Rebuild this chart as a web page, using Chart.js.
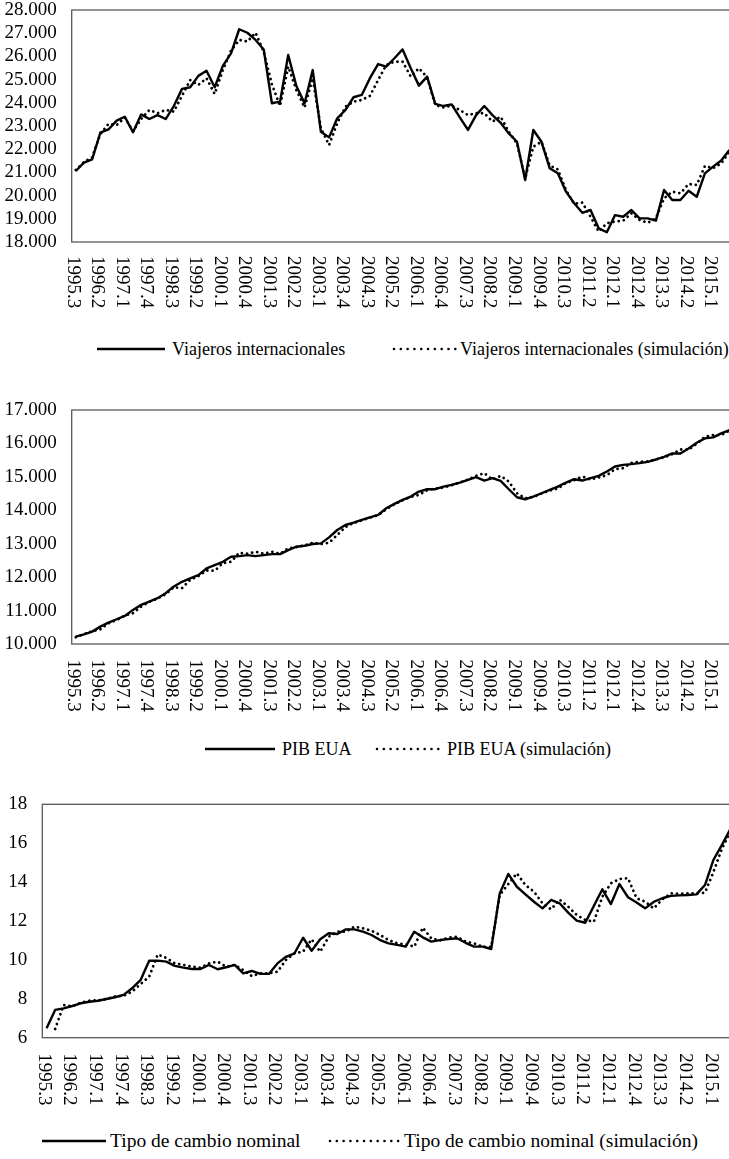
<!DOCTYPE html>
<html><head><meta charset="utf-8">
<script src="https://cdn.jsdelivr.net/npm/chart.js@4.4.1/dist/chart.umd.min.js"></script>
<style>
html,body{margin:0;padding:0;background:#fff;}
body{width:729px;height:1159px;overflow:hidden;position:relative;font-family:"Liberation Serif","Times New Roman",serif;}
canvas{position:absolute;left:0;}
.lg{position:absolute;display:flex;align-items:center;height:24px;line-height:24px;color:#000;white-space:nowrap;}
.lg svg{display:block;}
</style></head><body>
<canvas id="c1" width="740" height="320" style="top:0px"></canvas>
<canvas id="c2" width="740" height="320" style="top:400px"></canvas>
<canvas id="c3" width="740" height="320" style="top:790px"></canvas>
<script>
// ---------- categories (quarters 1995.3 .. 2015.3) ----------
const categories = [];
for (let y = 1995; y <= 2015; y++) {
  for (let q = 1; q <= 4; q++) {
    if ((y === 1995 && q < 3) || (y === 2015 && q > 3)) continue;
    categories.push(y + '.' + q);
  }
}
const tickLabels = ['1995.3','1996.2','1997.1','1997.4','1998.3','1999.2','2000.1','2000.4','2001.3',
  '2002.2','2003.1','2003.4','2004.3','2005.2','2006.1','2006.4','2007.3','2008.2','2009.1','2009.4',
  '2010.3','2011.2','2012.1','2012.4','2013.3','2014.2','2015.1'];

// ---------- series ----------
const viajeros = [21060,21420,21560,22710,22850,23230,23400,22730,23500,23300,
  23470,23300,23860,24600,24670,25160,25380,24670,25590,26130,
  27170,27020,26710,26300,23980,24050,26060,24720,23980,25410,
  22750,22510,23330,23690,24240,24340,25060,25670,25560,25920,
  26300,25490,24740,25130,23950,23860,23930,23370,22830,23470,
  23860,23470,23140,22680,22320,20670,22830,22320,21180,20960,
  20170,19670,19260,19380,18590,18420,19160,19090,19380,19020,
  19020,18920,20240,19810,19810,20210,19950,20960,21250,21510,21970];
const viajerosSim = [21100,21450,21650,22650,23090,23040,23360,22770,23300,23690,
  23550,23690,23620,24300,24980,24770,25060,24380,25410,26250,
  26710,26640,27020,26200,24800,23860,25560,24550,23800,25060,
  22900,22180,23120,23830,24050,24120,24300,24980,25630,25770,
  25770,25130,25490,25100,23900,23800,23880,23690,23470,23550,
  23550,23190,23400,22750,22250,20740,22110,22320,21300,21130,
  20240,19640,19700,19090,18450,18810,18880,18920,19240,18950,
  18830,19020,19880,20170,20100,20500,20460,21280,21180,21390,21890];
const pib = [10220,10290,10370,10520,10640,10740,10840,11020,11170,11270,
  11370,11520,11720,11860,11960,12060,12260,12360,12460,12610,
  12630,12660,12630,12660,12690,12690,12810,12910,12940,12990,
  13010,13190,13410,13560,13630,13710,13790,13860,14060,14190,
  14310,14410,14560,14630,14630,14710,14760,14830,14910,14990,
  14890,14960,14880,14630,14390,14330,14410,14510,14610,14710,
  14830,14930,14890,14960,15030,15160,15310,15360,15380,15410,
  15450,15520,15600,15700,15700,15850,16020,16150,16180,16300,16400];
const pibSim = [10200,10300,10380,10440,10620,10720,10850,10920,11120,11260,
  11360,11490,11700,11670,11920,12030,12200,12190,12420,12460,
  12730,12700,12760,12700,12760,12700,12860,12900,12950,13030,
  12990,13030,13260,13500,13620,13700,13780,13850,14030,14180,
  14300,14400,14460,14600,14650,14680,14750,14830,14920,15030,
  15110,14920,15030,14860,14510,14360,14400,14500,14590,14650,
  14820,14900,15010,14920,14980,15050,15230,15260,15420,15450,
  15460,15520,15580,15680,15820,15810,15990,16200,16250,16250,16380];
const tipoCambio = [6.48,7.43,7.51,7.63,7.77,7.85,7.90,7.99,8.08,8.20,
  8.54,8.97,9.96,9.96,9.91,9.69,9.60,9.53,9.53,9.74,
  9.52,9.62,9.74,9.31,9.43,9.28,9.28,9.82,10.16,10.34,
  11.14,10.47,11.06,11.37,11.33,11.57,11.57,11.45,11.28,11.02,
  10.85,10.77,10.68,11.45,11.16,10.94,11.02,11.07,11.11,10.88,
  10.68,10.68,10.56,13.42,14.42,13.76,13.37,12.99,12.65,13.08,
  12.91,12.43,12.02,11.91,12.77,13.63,12.87,13.90,13.22,12.95,
  12.65,12.98,13.17,13.29,13.32,13.34,13.37,13.85,15.15,15.93,16.75];
const tipoCambioSim = [null,6.45,7.68,7.61,7.80,7.90,7.92,7.99,8.12,8.15,
  8.37,8.76,9.14,10.28,10.10,9.82,9.74,9.65,9.60,9.82,
  9.91,9.65,9.74,9.48,9.17,9.31,9.31,9.39,10.00,10.34,
  10.42,11.06,10.42,11.19,11.45,11.45,11.71,11.62,11.50,11.28,
  11.02,10.85,10.80,10.68,11.66,11.10,11.00,11.14,11.19,10.94,
  10.85,10.68,10.66,13.34,13.90,14.45,13.85,13.51,12.91,12.60,
  13.10,12.74,12.31,12.05,11.96,13.25,13.94,14.16,14.20,13.17,
  12.99,12.65,13.11,13.42,13.40,13.42,13.42,13.46,14.53,15.74,16.60];

const seriesNames = [
  ['Viajeros internacionales', 'Viajeros internacionales (simulación)'],
  ['PIB EUA', 'PIB EUA (simulación)'],
  ['Tipo de cambio nominal', 'Tipo de cambio nominal (simulación)']
];

// ---------- helpers ----------
const FONT = '"Liberation Serif", "Times New Roman", serif';
function thousands(v) {
  return Math.round(v).toString().replace(/\B(?=(\d{3})+(?!\d))/g, '.');
}

const frameAndLabels = {
  id: 'frameAndLabels',
  beforeDatasetsDraw(chart) {
    const a = chart.chartArea, ctx = chart.ctx;
    ctx.save();
    ctx.strokeStyle = '#595959';
    ctx.lineWidth = 1.3;
    ctx.strokeRect(a.left, a.top, a.right - a.left, a.bottom - a.top);
    ctx.restore();
  },
  afterDraw(chart, args, opts) {
    const sc = chart.scales.x, ctx = chart.ctx;
    ctx.save();
    ctx.font = '19px ' + FONT;
    ctx.fillStyle = '#000';
    ctx.textAlign = 'left';
    ctx.textBaseline = 'middle';
    tickLabels.forEach(lab => {
      const idx = categories.indexOf(lab);
      if (idx < 0) return;
      const x = sc.getPixelForValue(idx) + opts.dx;
      const y = sc.top + opts.dy;
      ctx.save();
      ctx.translate(x, y);
      ctx.rotate(Math.PI / 2);
      ctx.fillText(lab, 0, 0);
      ctx.restore();
    });
    ctx.restore();
  }
};

function makePanel(id, cfg) {
  new Chart(document.getElementById(id), {
    type: 'line',
    data: {
      labels: categories,
      datasets: [
        { label: cfg.names[0], data: cfg.main, borderColor: '#000', borderWidth: 2.4,
          pointRadius: 0, tension: 0, borderJoinStyle: 'round', order: 1, spanGaps: false },
        { label: cfg.names[1], data: cfg.sim, borderColor: '#000', borderWidth: 2.8,
          borderDash: [0.01, 5.2], borderCapStyle: 'round', pointRadius: 0, tension: 0, order: 0 }
      ]
    },
    options: {
      responsive: false,
      animation: false,
      devicePixelRatio: 1,
      layout: { padding: { top: cfg.top, right: cfg.right, left: 0, bottom: 0 } },
      plugins: {
        legend: { display: false },
        tooltip: { enabled: false },
        frameAndLabels: { dx: -3, dy: cfg.labelGap }
      },
      scales: {
        x: {
          type: 'category', offset: true,
          ticks: { display: false },
          grid: { display: false, drawTicks: false },
          border: { display: false },
          afterFit(s) { s.height = cfg.bottomH; s.paddingLeft = 0; s.paddingRight = 0; }
        },
        y: {
          min: cfg.min, max: cfg.max,
          ticks: { stepSize: cfg.step, color: '#000', padding: 15,
            font: { family: FONT, size: 19, lineHeight: 1 },
            callback: cfg.fmt },
          grid: { display: false, drawTicks: false },
          border: { display: false },
          afterFit(s) { s.width = cfg.leftW; s.paddingTop = 0; s.paddingBottom = 0; }
        }
      }
    },
    plugins: [frameAndLabels]
  });
}

makePanel('c1', { main: viajeros, sim: viajerosSim, names: seriesNames[0],
  min: 18000, max: 28000, step: 1000, fmt: v => thousands(v),
  top: 10, right: 6.5, leftW: 71.7, bottomH: 78, labelGap: 14 });
makePanel('c2', { main: pib, sim: pibSim, names: seriesNames[1],
  min: 10000, max: 17000, step: 1000, fmt: v => thousands(v),
  top: 10, right: 6.5, leftW: 71.7, bottomH: 76, labelGap: 15.5 });
makePanel('c3', { main: tipoCambio, sim: tipoCambioSim, names: seriesNames[2],
  min: 6, max: 18, step: 2, fmt: v => String(v),
  top: 14.3, right: 5.1, leftW: 42.3, bottomH: 72.3, labelGap: 15.5 });

// ---------- legends ----------
const legendLayout = [
  { y: 349, fs: 18, items: [ { x1: 97, x2: 165, tx: 172 }, { x1: 392, x2: 455, tx: 460 } ] },
  { y: 749, fs: 18, items: [ { x1: 205, x2: 275, tx: 282 }, { x1: 375, x2: 440, tx: 447 } ] },
  { y: 1141, fs: 19.5, items: [ { x1: 42, x2: 106, tx: 110 }, { x1: 328, x2: 397, tx: 404 } ] }
];
legendLayout.forEach((lg, p) => {
  lg.items.forEach((it, k) => {
    const w = it.x2 - it.x1;
    const line = document.createElement('div');
    line.className = 'lg';
    line.style.left = it.x1 + 'px';
    line.style.top = (lg.y - 12) + 'px';
    line.innerHTML = k === 0
      ? '<svg width="' + w + '" height="8"><line x1="0" y1="4" x2="' + w + '" y2="4" stroke="#000" stroke-width="2.4"/></svg>'
      : '<svg width="' + (w + 4) + '" height="8"><line x1="2" y1="4" x2="' + (w + 2) + '" y2="4" stroke="#000" stroke-width="2.6" stroke-linecap="round" stroke-dasharray="0.01 6.8"/></svg>';
    document.body.appendChild(line);
    const t = document.createElement('div');
    t.className = 'lg';
    t.style.fontSize = lg.fs + 'px';
    t.style.left = it.tx + 'px';
    t.style.top = (lg.y - 12) + 'px';
    t.textContent = seriesNames[p][k];
    document.body.appendChild(t);
  });
});
</script>
</body></html>
